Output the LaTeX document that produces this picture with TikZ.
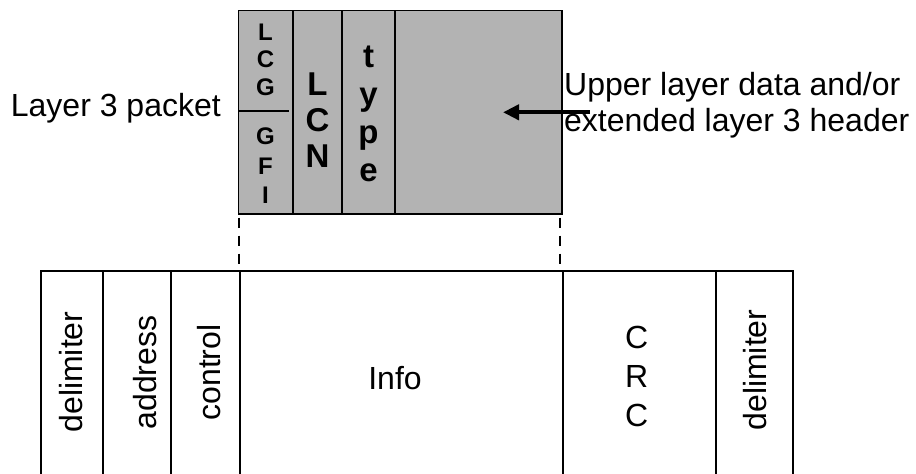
\documentclass[tikz,border=0pt]{standalone}
\usepackage{fontspec}
\setmainfont{Liberation Sans}
\usepackage{xcolor}
\usetikzlibrary{arrows.meta, positioning}
\definecolor{pktgray}{RGB}{179,179,179}

\begin{document}
\begin{tikzpicture}[
    x=1pt, y=-1pt,
    pkt/.style={draw, fill=pktgray, line width=1.8pt, inner sep=0pt, outer sep=0pt},
    sep/.style={line width=1.6pt},
    hdrsmall/.style={font=\bfseries\fontsize{24}{27.7}\selectfont, align=center, inner sep=0pt},
    hdrbig/.style={font=\bfseries\fontsize{33}{35.7}\selectfont, align=center, inner sep=0pt},
    lbl/.style={font=\fontsize{32}{36}\selectfont, inner sep=0pt},
    fld/.style={font=\fontsize{32}{38.7}\selectfont, inner sep=0pt},
    frm/.style={line width=1.8pt},
    cut/.style={line width=2.8pt, dash pattern=on 10pt off 8pt},
    ptr/.style={-{Triangle[length=16pt, width=15pt]}, line width=4.2pt},
    >=Stealth
]
\useasboundingbox (0,0) rectangle (916,474);

% Layer 3 packet
\node[pkt, minimum width=323.5pt, minimum height=203.5pt] (pkt) at (400.25,112.25) {};
\foreach \x in {292.7,342,395}
  \draw[sep] (\x,10.5) -- (\x,214);
\draw[sep] (238.5,111) -- (289,111);

\node[hdrsmall] (lcg) at (265.5,59.7) {L\\C\\G};
\node[hdrsmall, font=\bfseries\fontsize{24}{29.5}\selectfont] (gfi) at (265.5,165.8) {G\\F\\I};
\node[hdrbig] (lcn) at (317.5,120.3) {L\\C\\N};
\node[hdrbig, font=\bfseries\fontsize{33}{38}\selectfont] (type) at (368.5,113.5) {t\\y\\p\\e};

% Labels
\node[lbl, anchor=base east] (pktlbl) at (221,116.7) {Layer 3 packet};
\node[lbl, align=left, anchor=west] (upper) at (564,105.5) {Upper layer data and/or\\extended layer 3 header};
\coordinate (ptrtail) at (590,112.3);
\coordinate (ptrtip) at (503,112.3);
\draw[ptr] (ptrtail) -- (ptrtip);

% Frame
\draw[frm] (40.7,474) |- (793,271) -- (793,474);
\foreach \x in {103.3,171,239.7,563.3,716}
  \draw[frm] (\x,271) -- (\x,474);

\node[fld, rotate=90, anchor=base] (delima) at (82,372) {delimiter};
\node[fld, rotate=90, anchor=base] (addr) at (156.7,372.5) {address};
\node[fld, rotate=90, anchor=base] (ctrl) at (220,372.5) {control};
\node[fld, anchor=base] (info) at (395,389.3) {Info};
\node[fld, align=center] (crc) at (636.7,376.5) {C\\R\\C};
\node[fld, rotate=90, anchor=base] (delimb) at (766.7,370) {delimiter};

% Dashed cut lines
\coordinate (lcut) at (239,217.5);
\coordinate (rcut) at (560,217.5);
\coordinate (infonw) at (239,271);
\coordinate (infone) at (560,271);
\draw[cut] (lcut) -- (infonw);
\draw[cut] (rcut) -- (infone);

\end{tikzpicture}
\end{document}
